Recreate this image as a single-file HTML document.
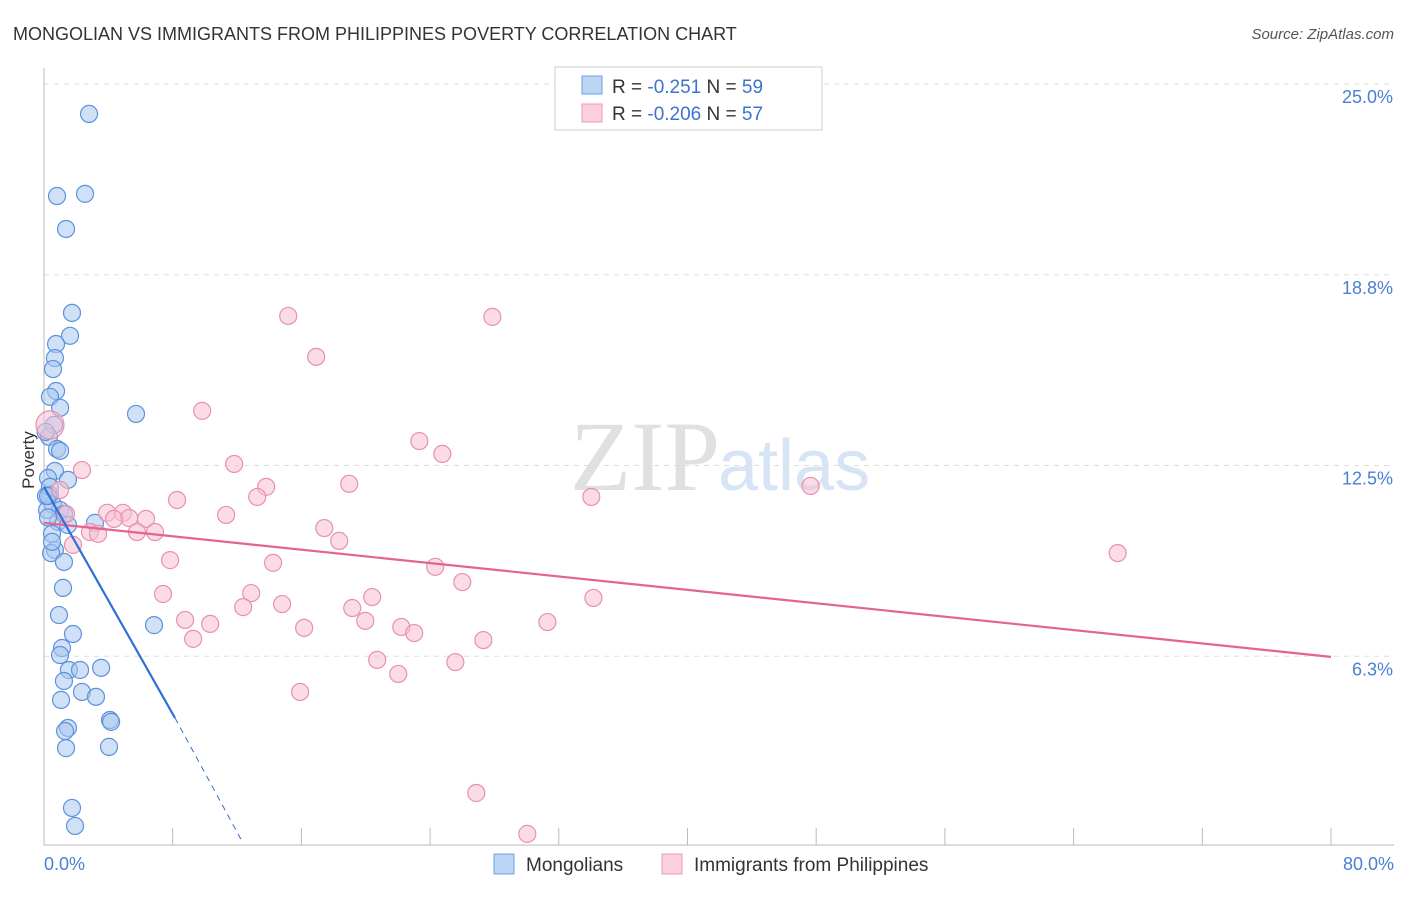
<!DOCTYPE html>
<html><head><meta charset="utf-8"><style>
body{margin:0;background:#fff;font-family:"Liberation Sans",sans-serif;}
</style></head><body>
<svg width="1406" height="892" font-family="Liberation Sans, sans-serif">
<text x="13" y="40" font-size="18" fill="#333">MONGOLIAN VS IMMIGRANTS FROM PHILIPPINES POVERTY CORRELATION CHART</text>
<text x="1394" y="39" font-size="15" fill="#555" font-style="italic" text-anchor="end">Source: ZipAtlas.com</text>
<text x="720" y="490" font-size="100" fill="#e0e0e0" text-anchor="end" font-family="Liberation Serif, serif">ZIP</text>
<text x="718" y="490" font-size="72" fill="#d6e4f5">atlas</text>
<g id="grid"></g>
<g id="axes"></g>
<g id="pts"></g>
<g id="lines"></g>
<text x="34" y="460" font-size="17" fill="#333" text-anchor="middle" transform="rotate(-90 34 460)">Poverty</text>
<text x="44" y="870" font-size="18" fill="#4a7fd4">0.0%</text>
<text x="1394" y="870" font-size="18" fill="#4a7fd4" text-anchor="end">80.0%</text>
<g>
<rect x="555" y="67" width="267" height="63" fill="#fff" stroke="#ccc"/>
<rect x="582" y="76" width="20" height="18" fill="#bcd5f5" stroke="#6c9ee0"/>
<rect x="582" y="104" width="20" height="18" fill="#fbcfdc" stroke="#e99ab4"/>
<text x="612" y="93" font-size="19" fill="#333">R = <tspan fill="#3b73d0"> -0.251</tspan>   N = <tspan fill="#3b73d0">59</tspan></text>
<text x="612" y="120" font-size="19" fill="#333">R = <tspan fill="#3b73d0">-0.206</tspan>   N = <tspan fill="#3b73d0">57</tspan></text>
</g>
<g>
<rect x="494" y="854" width="20" height="20" fill="#bcd5f5" stroke="#6c9ee0"/>
<text x="526" y="871" font-size="19" fill="#333">Mongolians</text>
<rect x="662" y="854" width="20" height="20" fill="#fbcfdc" stroke="#e99ab4"/>
<text x="694" y="871" font-size="19" fill="#333">Immigrants from Philippines</text>
</g>
</svg>
<script>
const yTicks=[25,18.75,12.5,6.25];
const yTickLabels=["25.0%","18.8%","12.5%","6.3%"];
const xTicks=[0,8,16,24,32,40,48,56,64,72,80];
const blueX=[2.80,0.81,2.55,1.37,1.74,1.62,0.75,0.68,0.56,0.75,0.37,1.00,0.62,0.31,0.81,1.00,0.68,0.25,1.49,0.37,0.56,1.00,0.19,1.24,0.87,1.49,3.17,0.50,0.68,0.44,1.24,1.18,0.93,1.80,1.12,1.00,5.72,6.84,1.55,2.24,3.55,1.24,2.36,3.23,1.06,1.49,1.31,4.10,4.17,1.37,4.04,1.74,1.93,0.25,0.12,0.50,0.37,0.25,0.1];
const blueY=[24.02,21.33,21.40,20.25,17.50,16.75,16.48,16.02,15.66,14.94,14.75,14.39,13.83,13.44,13.04,12.98,12.32,12.09,12.03,11.54,11.21,11.04,11.04,10.91,10.65,10.55,10.62,10.26,9.73,9.63,9.34,8.49,7.60,6.98,6.52,6.29,14.19,7.27,5.80,5.80,5.87,5.44,5.08,4.92,4.82,3.90,3.80,4.16,4.10,3.24,3.28,1.28,0.69,10.8,11.5,10.0,11.8,11.5,13.6];
const pinkX=[15.18,27.87,16.92,9.83,23.33,24.76,11.82,2.36,13.81,18.97,8.27,13.25,34.02,47.65,11.32,3.92,4.91,5.29,6.34,4.35,5.78,6.90,2.86,3.36,1.37,1.00,17.42,18.35,1.80,66.74,7.84,14.24,24.32,26.00,7.40,12.88,20.40,34.15,12.38,14.80,19.16,8.77,10.33,19.97,31.29,16.17,22.21,23.01,9.27,27.31,20.71,25.57,22.02,15.92,26.87,30.04,0.37];
const pinkY=[17.40,17.37,16.06,14.29,13.30,12.88,12.55,12.35,11.80,11.90,11.37,11.47,11.47,11.83,10.88,10.95,10.95,10.78,10.75,10.75,10.32,10.32,10.32,10.26,10.91,11.70,10.45,10.03,9.90,9.63,9.40,9.31,9.18,8.68,8.29,8.32,8.19,8.16,7.86,7.96,7.83,7.44,7.31,7.41,7.37,7.18,7.21,7.01,6.82,6.78,6.13,6.06,5.67,5.08,1.77,0.43,13.83];
const blueTrend=[[0,11.80],[8.14,4.23]];
const blueDash=[[8.14,4.23],[12.3,0.2]];
const pinkTrend=[[0,10.62],[80,6.23]];
const NS="http://www.w3.org/2000/svg";
const X=v=>44+v/80*1287, Y=v=>847-v/25*763;
function mk(t,a,p){const e=document.createElementNS(NS,t);for(const k in a)e.setAttribute(k,a[k]);document.getElementById(p).appendChild(e);return e;}
yTicks.forEach((t,i)=>{
 const l=mk('line',{x1:44,x2:1394,y1:Y(t),y2:Y(t),stroke:'#ddd','stroke-dasharray':'5,5'},'grid');
 
 
 const tx=mk('text',{x:1393,y:Y(t)+19,'font-size':18,fill:'#4a7fd4','text-anchor':'end'},'grid');
 tx.textContent=yTickLabels[i];
 
 
});
const ya=mk('line',{x1:44,x2:44,y1:68,y2:845,stroke:'#bbb'},'axes');


const xa=mk('line',{x1:44,x2:1394,y1:845,y2:845,stroke:'#bbb'},'axes');


xTicks.forEach(t=>{
 const l=mk('line',{x1:X(t),x2:X(t),y1:828,y2:845,stroke:'#bbb'},'axes');
 
 
});
function pts(xs,ys,fill,stroke,name,r){xs.forEach((x,i)=>{
 const c=mk('circle',{cx:X(x),cy:Y(ys[i]),r:(i==xs.length-1&&name=='pink-point')?14:r,fill:fill,'fill-opacity':0.55,stroke:stroke,'stroke-width':1.2},'pts');
 
 
});}
pts(blueX,blueY,'#a9c8f0','#5b92dc','blue-point',8.5);
pts(pinkX,pinkY,'#f8c0d2','#e890ae','pink-point',8.5);
function ln(p,col,dash,name){const l=mk('line',{x1:X(p[0][0]),y1:Y(p[0][1]),x2:X(p[1][0]),y2:Y(p[1][1]),stroke:col,'stroke-width':dash?1:2.2},'lines');if(dash)l.setAttribute('stroke-dasharray','6,5');
 
 }
ln(pinkTrend,'#e4638f',false,'pink-trendline');
ln(blueTrend,'#2f6fd8',false,'blue-trendline');
ln(blueDash,'#2f6fd8',true,'blue-trendline-extension');
</script>
</body></html>
